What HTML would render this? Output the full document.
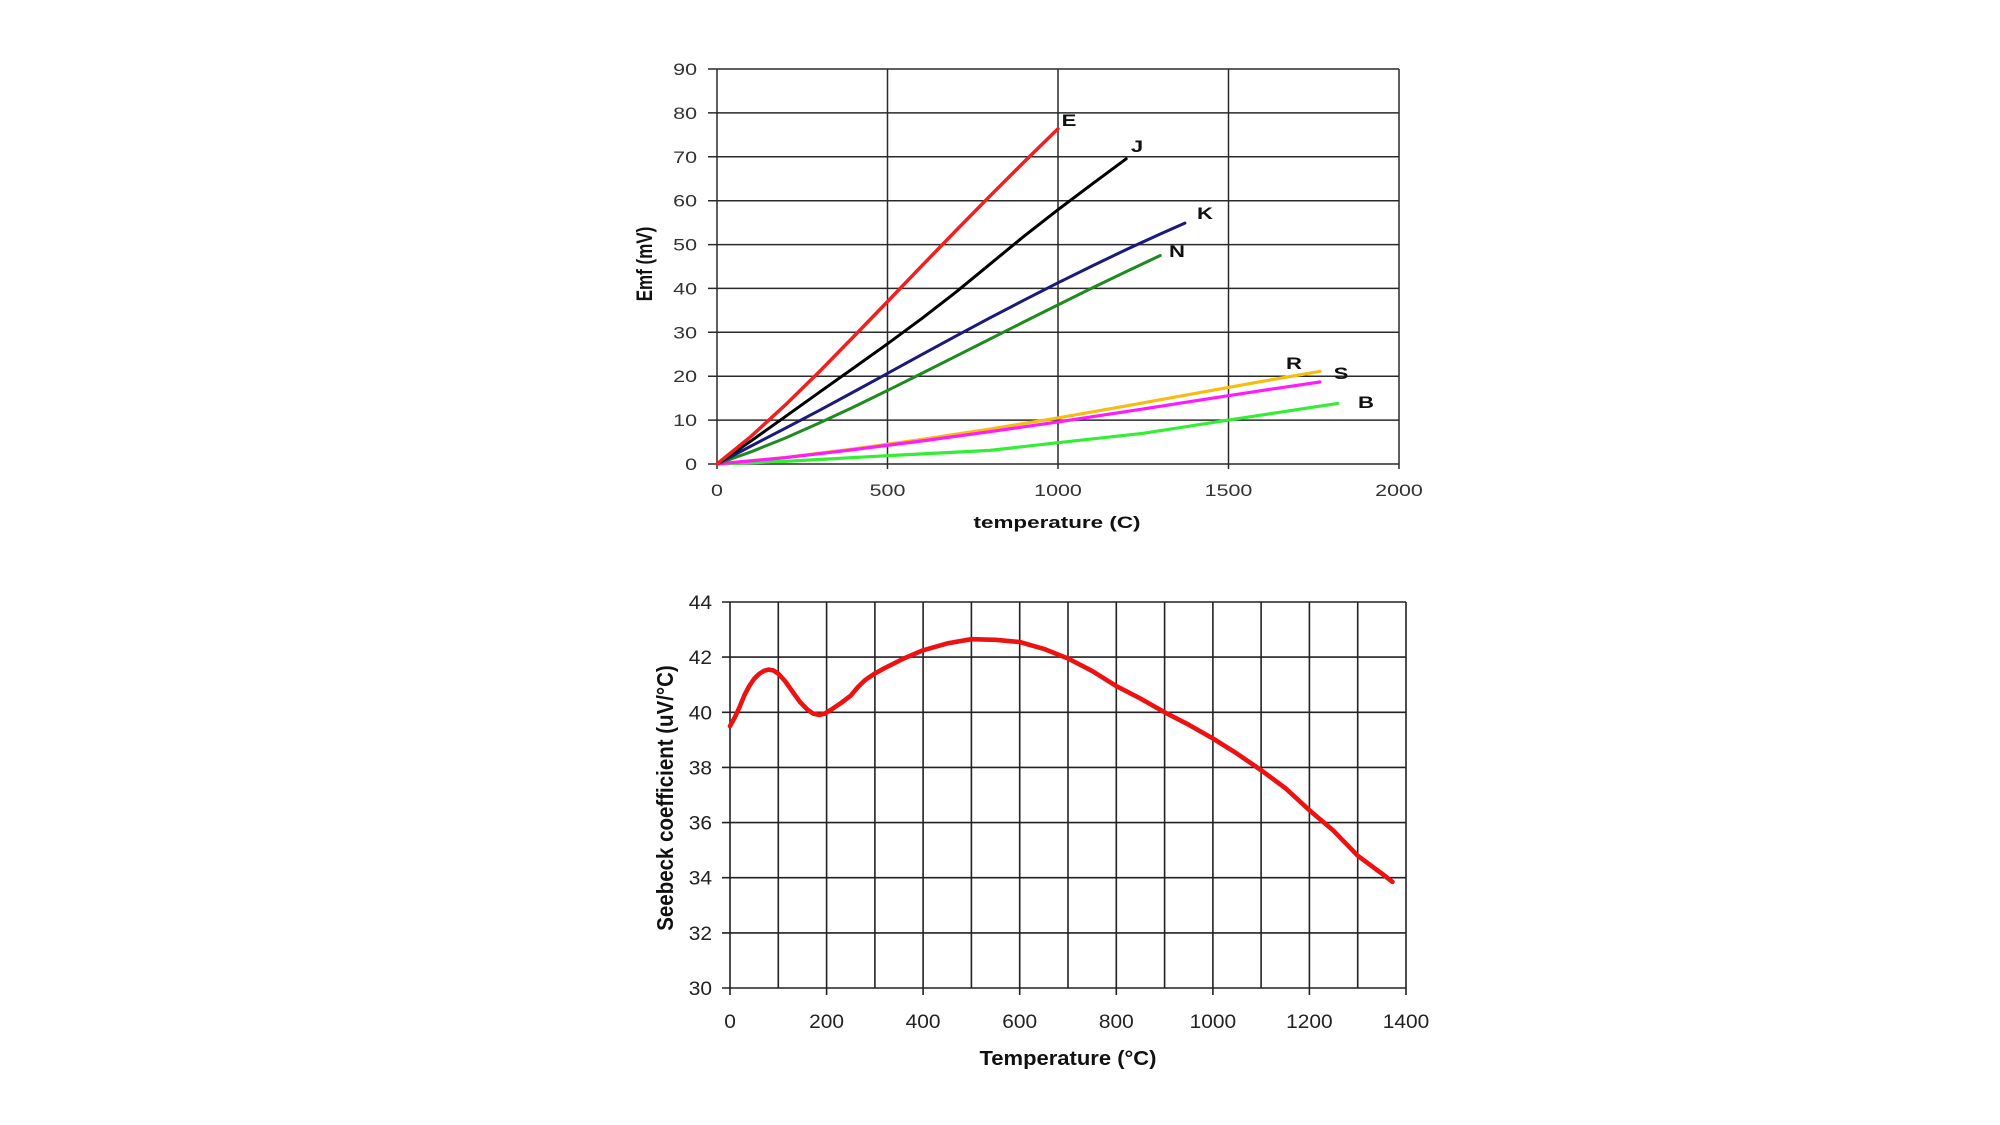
<!DOCTYPE html>
<html>
<head>
<meta charset="utf-8">
<style>
html,body{margin:0;padding:0;background:#fff;}
svg{display:block;}
text{font-family:"Liberation Sans",Arial,sans-serif;}
.t1{font-size:16.5px;fill:#333;}
.t2{font-size:19px;fill:#222;}
.b{font-weight:bold;fill:#111;}
</style>
</head>
<body>
<svg width="2000" height="1125" viewBox="0 0 2000 1125" xmlns="http://www.w3.org/2000/svg">
<rect width="2000" height="1125" fill="#fff"/>

<!-- ============ CHART 1 ============ -->
<g stroke="#2a2a2a" stroke-width="1.5" fill="none">
  <line x1="708" y1="464" x2="1399" y2="464"/>
  <line x1="708" y1="420.1" x2="1399" y2="420.1"/>
  <line x1="708" y1="376.2" x2="1399" y2="376.2"/>
  <line x1="708" y1="332.3" x2="1399" y2="332.3"/>
  <line x1="708" y1="288.4" x2="1399" y2="288.4"/>
  <line x1="708" y1="244.6" x2="1399" y2="244.6"/>
  <line x1="708" y1="200.7" x2="1399" y2="200.7"/>
  <line x1="708" y1="156.8" x2="1399" y2="156.8"/>
  <line x1="708" y1="112.9" x2="1399" y2="112.9"/>
  <line x1="708" y1="69" x2="1399" y2="69"/>
  <line x1="717" y1="69" x2="717" y2="469"/>
  <line x1="887.5" y1="69" x2="887.5" y2="469"/>
  <line x1="1058" y1="69" x2="1058" y2="469"/>
  <line x1="1228.5" y1="69" x2="1228.5" y2="469"/>
  <line x1="1399" y1="69" x2="1399" y2="469"/>
</g>

<!-- y tick labels chart 1 -->
<g class="t1" text-anchor="end">
  <text transform="translate(697,470) scale(1.3,1)">0</text>
  <text transform="translate(697,426.1) scale(1.3,1)">10</text>
  <text transform="translate(697,382.2) scale(1.3,1)">20</text>
  <text transform="translate(697,338.3) scale(1.3,1)">30</text>
  <text transform="translate(697,294.4) scale(1.3,1)">40</text>
  <text transform="translate(697,250.6) scale(1.3,1)">50</text>
  <text transform="translate(697,206.7) scale(1.3,1)">60</text>
  <text transform="translate(697,162.8) scale(1.3,1)">70</text>
  <text transform="translate(697,118.9) scale(1.3,1)">80</text>
  <text transform="translate(697,75) scale(1.3,1)">90</text>
</g>
<!-- x tick labels chart 1 -->
<g class="t1" text-anchor="middle">
  <text transform="translate(717,496) scale(1.3,1)">0</text>
  <text transform="translate(887.5,496) scale(1.3,1)">500</text>
  <text transform="translate(1058,496) scale(1.3,1)">1000</text>
  <text transform="translate(1228.5,496) scale(1.3,1)">1500</text>
  <text transform="translate(1399,496) scale(1.3,1)">2000</text>
</g>
<text class="b" font-size="17" text-anchor="middle" transform="translate(1057,528) scale(1.32,1)">temperature (C)</text>
<text class="b" font-size="17" text-anchor="middle" transform="translate(652,264) rotate(-90) scale(1,1.3)">Emf (mV)</text>

<!-- series chart 1 -->
<g fill="none" stroke-linejoin="round" stroke-linecap="round">
  <polyline stroke="#33ee33" stroke-width="3.2" points="717,464 785.2,461.4 887.5,455.7 989.8,450.4 1058,442.7 1143.3,433.3 1228.5,420.1 1337.6,403.4"/>
  <polyline stroke="#f5bd10" stroke-width="3.2" points="717,464 785.2,457.5 853.4,449.0 921.6,439.5 989.8,429.1 1058,417.9 1126.2,405.9 1194.4,393.6 1262.6,381.3 1319.9,371.4"/>
  <polyline stroke="#ff1aff" stroke-width="3.2" points="717,464 785.2,457.7 853.4,449.7 921.6,441.0 989.8,431.7 1058,421.9 1126.2,411.6 1194.4,400.9 1262.6,390.4 1319.9,382.0"/>
  <polyline stroke="#1f8a1f" stroke-width="3" points="717,464 751.1,451.8 785.2,438.1 819.3,423.0 853.4,407.1 887.5,390.5 921.6,373.5 955.7,356.3 989.8,339.1 1023.9,321.9 1058,304.9 1092.1,288.0 1126.2,271.6 1160.3,255.5"/>
  <polyline stroke="#1a1a7a" stroke-width="3" points="717,464 751.1,446.0 785.2,428.3 819.3,410.4 853.4,392.0 887.5,373.4 921.6,354.7 955.7,336.2 989.8,317.9 1023.9,300.2 1058,282.8 1092.1,266.0 1126.2,249.6 1160.3,234.0 1184.9,223.1"/>
  <polyline stroke="#000" stroke-width="3" points="717,464 751.1,440.9 785.2,416.7 819.3,392.3 853.4,368.1 887.5,343.8 921.6,318.7 955.7,292.3 989.8,264.3 1023.9,236.3 1058,209.7 1092.1,184.1 1126.2,158.8"/>
  <polyline stroke="#f02020" stroke-width="3.5" points="717,464 751.1,436.3 785.2,405.1 819.3,371.7 853.4,336.9 887.5,301.6 921.6,266.1 955.7,230.9 989.8,196.2 1023.9,162.1 1058,128.8"/>
</g>

<!-- series labels chart 1 -->
<g class="b" font-size="17" text-anchor="middle">
  <text transform="translate(1069,126) scale(1.3,1)">E</text>
  <text transform="translate(1137,152) scale(1.3,1)">J</text>
  <text transform="translate(1205,219) scale(1.3,1)">K</text>
  <text transform="translate(1177,257) scale(1.3,1)">N</text>
  <text transform="translate(1294,369) scale(1.3,1)">R</text>
  <text transform="translate(1341,379) scale(1.3,1)">S</text>
  <text transform="translate(1366,408) scale(1.3,1)">B</text>
</g>

<!-- ============ CHART 2 ============ -->
<g stroke="#222" stroke-width="1.6" fill="none">
  <line x1="722" y1="988" x2="1406" y2="988"/>
  <line x1="722" y1="932.9" x2="1406" y2="932.9"/>
  <line x1="722" y1="877.7" x2="1406" y2="877.7"/>
  <line x1="722" y1="822.6" x2="1406" y2="822.6"/>
  <line x1="722" y1="767.4" x2="1406" y2="767.4"/>
  <line x1="722" y1="712.3" x2="1406" y2="712.3"/>
  <line x1="722" y1="657.1" x2="1406" y2="657.1"/>
  <line x1="722" y1="602" x2="1406" y2="602"/>
  <line x1="730" y1="602" x2="730" y2="995"/>
  <line x1="778.3" y1="602" x2="778.3" y2="988"/>
  <line x1="826.6" y1="602" x2="826.6" y2="995"/>
  <line x1="874.9" y1="602" x2="874.9" y2="988"/>
  <line x1="923.1" y1="602" x2="923.1" y2="995"/>
  <line x1="971.4" y1="602" x2="971.4" y2="988"/>
  <line x1="1019.7" y1="602" x2="1019.7" y2="995"/>
  <line x1="1068" y1="602" x2="1068" y2="988"/>
  <line x1="1116.3" y1="602" x2="1116.3" y2="995"/>
  <line x1="1164.6" y1="602" x2="1164.6" y2="988"/>
  <line x1="1212.9" y1="602" x2="1212.9" y2="995"/>
  <line x1="1261.1" y1="602" x2="1261.1" y2="988"/>
  <line x1="1309.4" y1="602" x2="1309.4" y2="995"/>
  <line x1="1357.7" y1="602" x2="1357.7" y2="988"/>
  <line x1="1406" y1="602" x2="1406" y2="995"/>
</g>

<g class="t2" text-anchor="end">
  <text transform="translate(712,995) scale(1.1,1)">30</text>
  <text transform="translate(712,939.9) scale(1.1,1)">32</text>
  <text transform="translate(712,884.7) scale(1.1,1)">34</text>
  <text transform="translate(712,829.6) scale(1.1,1)">36</text>
  <text transform="translate(712,774.4) scale(1.1,1)">38</text>
  <text transform="translate(712,719.3) scale(1.1,1)">40</text>
  <text transform="translate(712,664.1) scale(1.1,1)">42</text>
  <text transform="translate(712,609) scale(1.1,1)">44</text>
</g>
<g class="t2" text-anchor="middle">
  <text transform="translate(730,1028) scale(1.1,1)">0</text>
  <text transform="translate(826.6,1028) scale(1.1,1)">200</text>
  <text transform="translate(923.1,1028) scale(1.1,1)">400</text>
  <text transform="translate(1019.7,1028) scale(1.1,1)">600</text>
  <text transform="translate(1116.3,1028) scale(1.1,1)">800</text>
  <text transform="translate(1212.9,1028) scale(1.1,1)">1000</text>
  <text transform="translate(1309.4,1028) scale(1.1,1)">1200</text>
  <text transform="translate(1406,1028) scale(1.1,1)">1400</text>
</g>
<text class="b" font-size="20" text-anchor="middle" transform="translate(1068,1065) scale(1.1,1)">Temperature (°C)</text>
<text class="b" font-size="20.5" text-anchor="middle" transform="translate(673,798) rotate(-90) scale(1,1.13)">Seebeck coefficient (uV/°C)</text>

<polyline fill="none" stroke="#ee1111" stroke-width="4.6" stroke-linejoin="round" stroke-linecap="round"
 points="730,726.1 735,717 739.7,706.8 744.5,695 749.3,686 754,679 759,674 764,670.8 768.6,669.6 773.5,670.5 778.3,673.7 785,681 792.8,692 800,702 807.3,709.5 813,713.5 819.3,715 825,713.5 831.4,709.5 841,703 850.7,695.7 858,687 865.2,680 874,674 884.5,668.2 903.8,658.5 923.1,650.3 947.3,643.4 971.4,639.2 995.6,639.8 1019.7,642 1043.9,648.9 1068,658.5 1092.1,670.9 1116.3,686.1 1140.4,698.5 1164.6,712.3 1188.7,724.7 1212.9,738.5 1237,753.6 1261.1,770.2 1285.3,788.1 1309.4,810.2 1333.6,830.8 1357.7,855.7 1381.9,873.6 1392.5,881.9"/>
</svg>
</body>
</html>
